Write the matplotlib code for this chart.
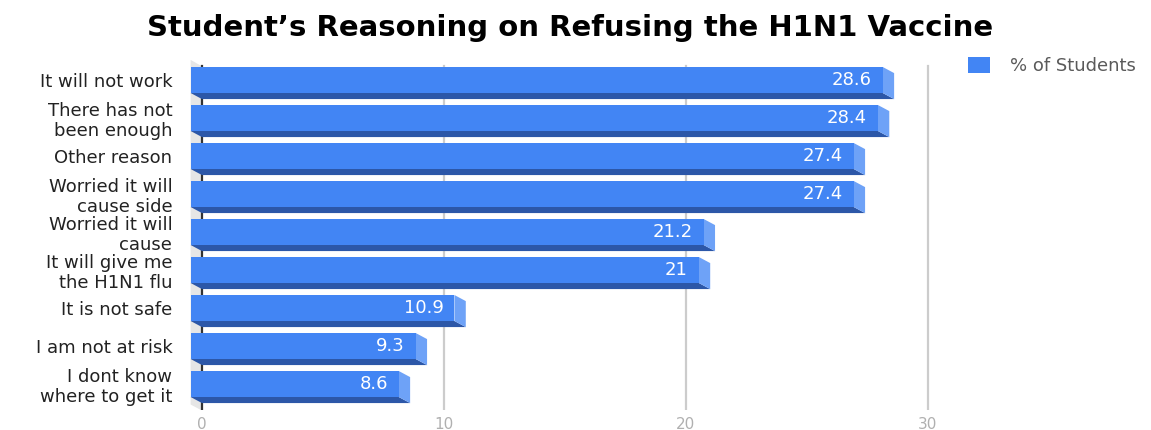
import matplotlib.pyplot as plt
from matplotlib.patches import Polygon

# data
reasons = ['It will not work', 'There has not\nbeen enough', 'Other reason',
           'Worried it will\ncause side', 'Worried it will\ncause',
           'It will give me\nthe H1N1 flu', 'It is not safe', 'I am not at risk',
           'I dont know\nwhere to get it']
pct = [28.6, 28.4, 27.4, 27.4, 21.2, 21.0, 10.9, 9.3, 8.6]
value_labels = ['28.6', '28.4', '27.4', '27.4', '21.2', '21', '10.9', '9.3', '8.6']
x_ticks = [0, 10, 20, 30]

front = '#4285F4'
bottom = '#2C57A8'
side = '#6EA2F7'

W, H = 1151, 430
fig = plt.figure(figsize=(W / 100, H / 100), dpi=100)
ax = fig.add_axes([180 / W, 1 - 410 / H, (945 - 180) / W, 350 / H])

dx = 0.47    # depth offset along x (data units)
dy = 0.16    # depth offset along y (rows)
hh = 0.342   # half height of front face

ax.set_xlim((180 - 202) / 24.2, (945 - 202) / 24.2)
ax.set_ylim((410 - 80) / 38, (60 - 80) / 38)

# left wall
ax.add_patch(Polygon([(-dx, -0.53), (0, -0.36), (0, 8.70), (-dx, 8.54)],
                     closed=True, fc='#E6E6E6', ec='none', zorder=0))

# gridlines and zero axis
for t in x_ticks[1:]:
    ax.plot([t, t], [-0.36, 8.70], color='#CCCCCC', lw=1.6, zorder=1)
ax.plot([0, 0], [-0.36, 8.70], color='#333333', lw=1.6, zorder=1)

for i, v in enumerate(pct):
    top, bot = i - hh, i + hh
    # bottom face
    ax.add_patch(Polygon([(-dx, bot), (v - dx, bot), (v, bot + dy), (0, bot + dy)],
                         closed=True, fc=bottom, ec='none', zorder=2))
    # right side face
    ax.add_patch(Polygon([(v - dx, top), (v, top + dy), (v, bot + dy), (v - dx, bot)],
                         closed=True, fc=side, ec='none', zorder=2))
    ax.text(v - dx - 0.45, i, value_labels[i], color='white', ha='right', va='center',
            fontsize=13, family='DejaVu Sans', zorder=4)

ax.barh(range(len(pct)), pct, left=-dx, height=2 * hh, color=front, zorder=3,
        label='% of Students')

ax.set_yticks(range(len(reasons)))
ax.set_yticklabels(reasons, fontsize=13, family='DejaVu Sans', color='#222222',
                   linespacing=1.15)
ax.set_xticks(x_ticks)
ax.set_xticklabels([str(t) for t in x_ticks], fontsize=11, family='DejaVu Sans',
                   color='#B0B0B0')
ax.tick_params(axis='y', length=0, pad=5.5)
ax.tick_params(axis='x', length=0, pad=5)
for s in ax.spines.values():
    s.set_visible(False)

fig.text(570 / W, 1 - 28 / H, 'Student\u2019s Reasoning on Refusing the H1N1 Vaccine',
         ha='center', va='center', fontsize=21, fontweight='bold', family='DejaVu Sans')

fig.legend(loc='upper left', bbox_to_anchor=(968 / W, 1 - 57 / H), frameon=False,
           prop={'family': 'DejaVu Sans', 'size': 13}, labelcolor='#5A5A5A',
           handlelength=1.2, handleheight=0.95, handletextpad=1.1, borderaxespad=0,
           borderpad=0)

fig.savefig('out.png', dpi=100)
